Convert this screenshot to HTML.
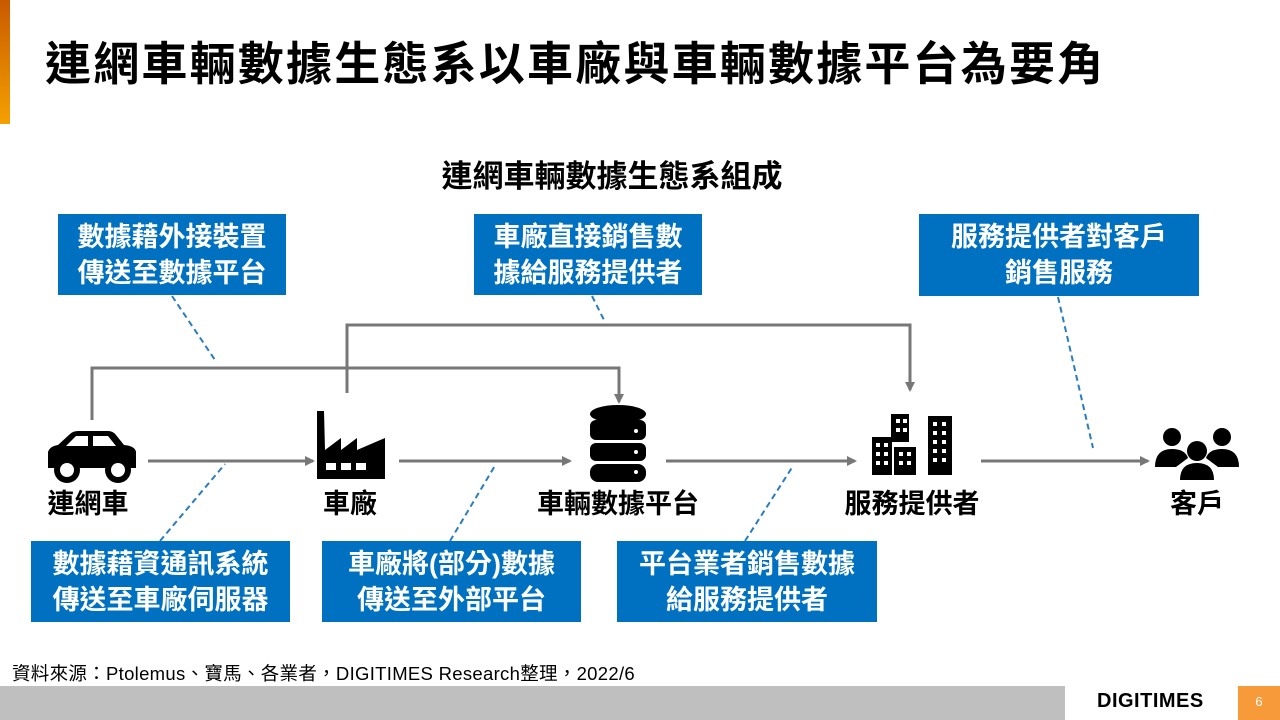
<!DOCTYPE html>
<html><head><meta charset="utf-8"><style>
html,body{margin:0;padding:0;background:#fff;}
body{width:1280px;height:720px;overflow:hidden;position:relative;font-family:"Liberation Sans","Noto Sans CJK TC",sans-serif;}
.t{position:absolute;white-space:nowrap;font-weight:bold;}
.box{position:absolute;background:#0070C0;color:#fff;font-weight:bold;font-size:27px;line-height:36px;text-align:center;display:flex;flex-direction:column;justify-content:center;}
.lab{position:absolute;font-weight:bold;font-size:27px;text-align:center;white-space:nowrap;transform:translateX(-50%);top:482px;color:#000;}
</style></head><body>
<div style="position:absolute;left:0;top:0;width:10px;height:124px;background:linear-gradient(#c85a00,#f5a000);"></div>
<div class="t" style="left:45px;top:28px;font-size:46px;letter-spacing:2.2px;">連網車輛數據生態系以車廠與車輛數據平台為要角</div>
<div class="t" style="left:0;width:1224px;text-align:center;top:151px;font-size:31px;">連網車輛數據生態系組成</div>

<svg style="position:absolute;left:0;top:0" width="1280" height="720">
<defs><marker id="a" markerWidth="10" markerHeight="10" refX="8" refY="5" orient="auto" markerUnits="userSpaceOnUse"><path d="M0,0 L10,5 L0,10z" fill="#777"/></marker></defs>
<g stroke="#777" stroke-width="3" fill="none">
<polyline points="92,420 92,368 619,368 619,402" marker-end="url(#a)"/>
<polyline points="347,393 347,325 910,325 910,390" marker-end="url(#a)"/>
<line x1="148" y1="461" x2="313" y2="461" marker-end="url(#a)"/>
<line x1="399" y1="461" x2="570" y2="461" marker-end="url(#a)"/>
<line x1="666" y1="461" x2="855" y2="461" marker-end="url(#a)"/>
<line x1="981" y1="461" x2="1148" y2="461" marker-end="url(#a)"/>
</g>
<g stroke="#2a7cc0" stroke-width="2" stroke-dasharray="6,4" fill="none">
<line x1="172" y1="296" x2="215" y2="360"/>
<line x1="592" y1="296" x2="605" y2="322"/>
<line x1="1058" y1="297" x2="1093" y2="448"/>
<line x1="160" y1="541" x2="225" y2="464"/>
<line x1="450" y1="541" x2="496" y2="464"/>
<line x1="745" y1="541" x2="793" y2="466"/>
</g>
<g fill="#000">
<path d="M48,468 L48,452 Q50,446 58,445 L70,434 Q73,431 78,431 L108,431 Q113,431 116,435 L124,445 Q135,446 136,452 L136,468 Z"/>
<path d="M76,436 L66,446 L88,446 L88,436 Z M93,436 L93,446 L116,446 L108,436 Z" fill="#fff"/>
<circle cx="67" cy="470" r="13"/><circle cx="67" cy="470" r="7" fill="#fff"/>
<circle cx="118" cy="470" r="13"/><circle cx="118" cy="470" r="7" fill="#fff"/>
</g>
<g fill="#000">
<path d="M317,479 L317,411 L324,411 L325,450 L341,438 L341,450 L357,438 L357,450 L385,438 L385,479 Z"/>
<rect x="326" y="463" width="10" height="7" fill="#fff"/><rect x="341" y="463" width="10" height="7" fill="#fff"/><rect x="356" y="463" width="10" height="7" fill="#fff"/>
</g>
<g fill="#000">
<ellipse cx="618" cy="414" rx="28" ry="9"/>
<rect x="590" y="420" width="56" height="20" rx="6"/>
<rect x="590" y="443" width="56" height="18" rx="6"/>
<rect x="590" y="464" width="56" height="18" rx="8"/>
<circle cx="636" cy="431" r="2" fill="#fff"/><circle cx="636" cy="452" r="2" fill="#fff"/><circle cx="636" cy="472" r="2" fill="#fff"/>
</g>
<g fill="#000">
<rect x="872" y="437" width="20" height="38"/><rect x="894" y="447" width="22" height="28"/><rect x="891" y="414" width="18" height="28"/><rect x="928" y="416" width="24" height="59"/>
<g fill="#fff"><rect x="876" y="443" width="4" height="4"/><rect x="884" y="443" width="4" height="4"/><rect x="876" y="452" width="4" height="4"/><rect x="884" y="452" width="4" height="4"/><rect x="876" y="461" width="4" height="4"/><rect x="884" y="461" width="4" height="4"/>
<rect x="896" y="419" width="4" height="4"/><rect x="903" y="419" width="4" height="4"/><rect x="896" y="428" width="4" height="4"/><rect x="903" y="428" width="4" height="4"/>
<rect x="899" y="452" width="4" height="4"/><rect x="907" y="452" width="4" height="4"/><rect x="899" y="461" width="4" height="4"/><rect x="907" y="461" width="4" height="4"/>
<rect x="933" y="422" width="4" height="4"/><rect x="942" y="422" width="4" height="4"/><rect x="933" y="431" width="4" height="4"/><rect x="942" y="431" width="4" height="4"/><rect x="933" y="440" width="4" height="4"/><rect x="942" y="440" width="4" height="4"/><rect x="933" y="449" width="4" height="4"/><rect x="942" y="449" width="4" height="4"/><rect x="933" y="458" width="4" height="4"/><rect x="942" y="458" width="4" height="4"/></g>
</g>
<g fill="#000">
<circle cx="1172" cy="437" r="9"/><path d="M1155,467 Q1155,449 1172,449 Q1185,449 1188,458 L1176,467 Z"/>
<circle cx="1222" cy="437" r="9"/><path d="M1239,467 Q1239,449 1222,449 Q1209,449 1206,458 L1218,467 Z"/>
<circle cx="1197" cy="451" r="10"/><path d="M1180,480 Q1180,463 1197,463 Q1214,463 1214,480 Z"/>
</g>
</svg>

<div class="lab" style="left:88px">連網車</div>
<div class="lab" style="left:350px">車廠</div>
<div class="lab" style="left:618px">車輛數據平台</div>
<div class="lab" style="left:912px">服務提供者</div>
<div class="lab" style="left:1197px">客戶</div>

<div class="box" style="left:58px;top:214px;width:228px;height:81px;">數據藉外接裝置<br>傳送至數據平台</div>
<div class="box" style="left:474px;top:214px;width:228px;height:81px;">車廠直接銷售數<br>據給服務提供者</div>
<div class="box" style="left:919px;top:214px;width:280px;height:82px;">服務提供者對客戶<br>銷售服務</div>
<div class="box" style="left:31px;top:541px;width:259px;height:81px;">數據藉資通訊系統<br>傳送至車廠伺服器</div>
<div class="box" style="left:322px;top:541px;width:259px;height:81px;">車廠將(部分)數據<br>傳送至外部平台</div>
<div class="box" style="left:617px;top:541px;width:260px;height:81px;">平台業者銷售數據<br>給服務提供者</div>

<div style="position:absolute;left:12px;top:660px;font-size:18.5px;color:#000;white-space:nowrap;letter-spacing:0.3px;">資料來源：Ptolemus、寶馬、各業者，DIGITIMES Research整理，2022/6</div>
<div style="position:absolute;left:0;top:686px;width:1065px;height:34px;background:#bfbfbf;"></div>
<div style="position:absolute;left:1097px;top:690px;font-size:20px;font-weight:bold;letter-spacing:0.5px;">DIGITIMES</div>
<div style="position:absolute;left:1238px;top:686px;width:42px;height:34px;background:#f79a3a;color:#fff;font-size:13px;text-align:center;line-height:32px;">6</div>
</body></html>
